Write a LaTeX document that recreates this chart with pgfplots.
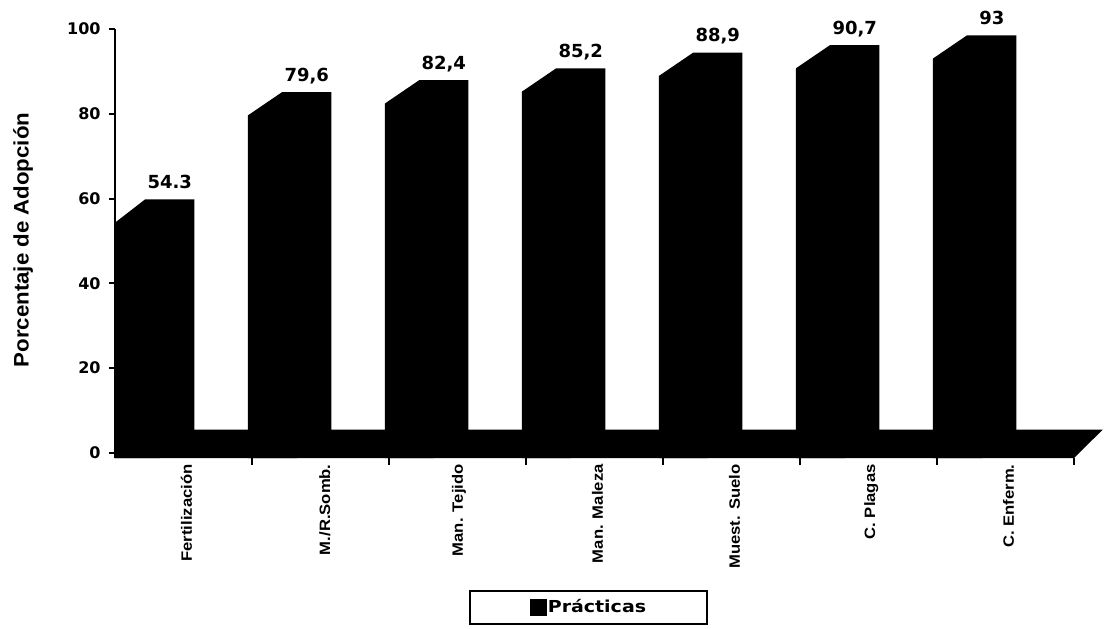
\documentclass[border=0pt]{standalone}
\usepackage{pgfplots}
\pgfplotsset{compat=1.18}
\usepackage{pgfplotstable}
\usepackage{fontspec}
\setmainfont{Liberation Sans}
\newfontfamily\widefamily[FakeStretch=1.15]{DejaVu Sans}
\newfontfamily\valfamily{DejaVu Sans}
\newfontfamily\catfamily[FakeStretch=1.11]{Liberation Sans}
\newfontfamily\labfamily[FakeStretch=1.06]{Liberation Sans}
\newcommand\tickfont{\valfamily\bfseries\fontsize{8}{9}\selectfont}
\newcommand\legfont{\widefamily\bfseries\fontsize{8.25}{9}\selectfont}
\newcommand\catfont{\catfamily\bfseries\fontsize{7.5}{8}\selectfont}
\newcommand\labfont{\labfamily\bfseries\fontsize{10.5}{12}\selectfont}
\newcommand\valfont{\valfamily\bfseries\fontsize{9}{10}\selectfont}

% porcentaje de adopcion por practica
\pgfplotstableread{
pos val lab
0 54.3 54.3
1 79.6 79,6
2 82.4 82,4
3 85.2 85,2
4 88.9 88,9
5 90.7 90,7
6 93 93
}\adopcion

% bar geometry (axis units): front width, depth offsets, floor depth
\def\bw{0.36}
\def\dx{0.25}
\def\dy{5.5}
\def\fl{5.5}

\tikzset{valor/.style={font=\valfont, anchor=base, yshift=5.5pt, inner sep=0pt}}

\begin{document}
\begin{tikzpicture}
\useasboundingbox (-57.5pt,-85pt) rectangle (494.5pt,229pt);
\begin{axis}[
  scale only axis,
  width=493.2pt, height=214.55pt,
  xmin=0, xmax=7.2, ymin=-1.2, ymax=100,
  clip=false,
  axis x line*=bottom, axis y line*=left,
  x axis line style={draw=none},
  y axis line style={-, line width=1.1pt},
  tick style={black, line width=1pt},
  tick align=outside,
  major tick length=3pt,
  ytick={0,20,...,100},
  /pgf/number format/assume math mode=true,
  yticklabel style={font=\tickfont, inner xsep=4pt, inner ysep=1pt},
  xtick={0.47,1.48,2.46,3.47,4.47,5.47,6.47},
  xticklabels={Fertilización, M./R.Somb., Man. Tejido, Man. Maleza, Muest. Suelo, C. Plagas, C. Enferm.},
  major x tick style={draw=none},
  minor xtick={1,...,7},
  minor tick length=3.5pt,
  xticklabel style={rotate=90, anchor=east, font=\catfont, inner sep=0pt, yshift=-3.5pt},
  ylabel={Porcentaje de Adopción},
  every axis y label/.style={at={(axis description cs:0,0.508)}, xshift=-46pt, rotate=90, anchor=center, font=\labfont},
  legend style={at={(axis description cs:0.48,-0.3484)}, anchor=center, draw=black, line width=1pt,
    inner xsep=30pt, inner ysep=2pt, font=\legfont, nodes={inner xsep=0.5pt, inner ysep=2pt}},
]
% floor slab
\addplot[fill=black, draw=none, forget plot] coordinates {(0,-1.2) (7,-1.2) (7.21,\fl) (0,\fl)};
% 3D columns: front face, top and side
\pgfplotsinvokeforeach{0,...,6}{
  \pgfplotstablegetelem{#1}{val}\of\adopcion
  \pgfmathsetmacro\yv{\pgfplotsretval}
  \pgfplotstablegetelem{#1}{lab}\of\adopcion
  \let\lb\pgfplotsretval
  \pgfmathsetmacro\xa{max(#1-0.03,0)}
  \pgfmathsetmacro\xb{#1-0.03+\bw}
  \pgfmathsetmacro\xc{#1-0.03+\dx}
  \pgfmathsetmacro\xd{#1-0.03+\dx+\bw}
  \pgfmathsetmacro\yt{\yv+\dy}
  \pgfmathsetmacro\xm{#1-0.03+\dx+\bw/2}
  \edef\barra{\noexpand\addplot[fill=black, draw=none, forget plot] coordinates {(\xa,-1.2) (\xa,\yv) (\xc,\yt) (\xd,\yt) (\xd,\fl) (\xb,-1.2)};
    \noexpand\node[valor] at (axis cs:\xm,\yt) {\lb};}
  \barra
}
\addlegendimage{legend image code/.code={\fill[black] (0pt,-3.75pt) rectangle (7.5pt,3.75pt);}}
\addlegendentry{Prácticas}
\end{axis}
\end{tikzpicture}
\end{document}
